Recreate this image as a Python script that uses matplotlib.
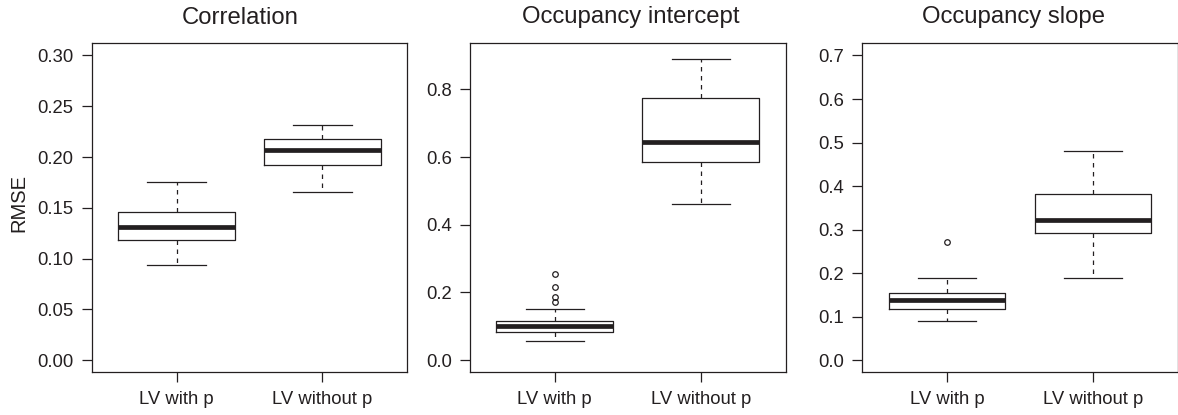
import matplotlib
matplotlib.use("Agg")
import matplotlib.pyplot as plt

plt.rcParams["font.family"] = ["Liberation Sans", "DejaVu Sans"]

INK = "#231f20"

groups = ["LV with p", "LV without p"]
titles = ["Correlation", "Occupancy intercept", "Occupancy slope"]

# five-number summaries: whislo, q1, median, q3, whishi
corr_with    = [0.094, 0.118, 0.131, 0.146, 0.175]
corr_without = [0.166, 0.192, 0.207, 0.218, 0.232]
int_with     = [0.056, 0.083, 0.100, 0.115, 0.151]
int_without  = [0.460, 0.586, 0.645, 0.774, 0.891]
slope_with   = [0.089, 0.118, 0.137, 0.154, 0.188]
slope_without = [0.188, 0.293, 0.323, 0.381, 0.481]

int_with_out   = [0.171, 0.186, 0.216, 0.253]
slope_with_out = [0.271]

panels = [
    ([corr_with, corr_without], [[], []]),
    ([int_with, int_without], [int_with_out, []]),
    ([slope_with, slope_without], [slope_with_out, []]),
]

yticks = [
    [0.00, 0.05, 0.10, 0.15, 0.20, 0.25, 0.30],
    [0.0, 0.2, 0.4, 0.6, 0.8],
    [0.0, 0.1, 0.2, 0.3, 0.4, 0.5, 0.6, 0.7],
]
yfmt = ["{:.2f}", "{:.1f}", "{:.1f}"]
ylims = [(-0.012, 0.312), (-0.036, 0.936), (-0.028, 0.728)]


def make_stats(summary, fliers, label):
    lo, q1, med, q3, hi = summary
    return dict(whislo=lo, q1=q1, med=med, q3=q3, whishi=hi,
                fliers=fliers, label=label)


W, H = 1178, 415
fig = plt.figure(figsize=(W / 100, H / 100), dpi=100)

lefts = [92, 470, 862.3]
widths = [315, 315.7, 315.4]
title_x = [0.471, 0.508, 0.478]
top, bottom = 43.3, 372.3

for i, (summaries, outs) in enumerate(panels):
    ax = fig.add_axes([lefts[i] / W, 1 - bottom / H, widths[i] / W, (bottom - top) / H])
    stats = [make_stats(s, o, g) for s, o, g in zip(summaries, outs, groups)]
    ax.bxp(stats, positions=[1, 2], widths=0.8, capwidths=0.4,
           showfliers=True,
           boxprops=dict(color=INK, linewidth=0.9),
           whiskerprops=dict(color=INK, linewidth=0.9, linestyle=(0, (3.6, 3.6))),
           capprops=dict(color=INK, linewidth=0.9),
           medianprops=dict(color=INK, linewidth=3.4, solid_capstyle="butt"),
           flierprops=dict(marker="o", markerfacecolor="none", markeredgecolor=INK,
                           markersize=4.0, markeredgewidth=0.9, linestyle="none"))
    ax.set_xlim(0.42, 2.58)
    ax.set_ylim(*ylims[i])
    ax.set_yticks(yticks[i])
    ax.set_yticklabels([yfmt[i].format(v) for v in yticks[i]])
    ax.tick_params(axis="both", direction="out", length=7.2, width=0.9,
                   colors=INK, labelsize=13.3)
    ax.tick_params(axis="y", pad=6)
    ax.tick_params(axis="x", pad=6.5)
    for sp in ax.spines.values():
        sp.set_color(INK)
        sp.set_linewidth(0.9)
    ax.text(title_x[i], 1 + 19.8 / (bottom - top), titles[i], transform=ax.transAxes,
            ha="center", va="baseline", fontsize=17.2, color=INK)

fig.text(18.5 / W, 1 - 203 / H, "RMSE", rotation=90, ha="center", va="center",
         fontsize=14.5, color=INK)

fig.savefig("out.png", dpi=100)
